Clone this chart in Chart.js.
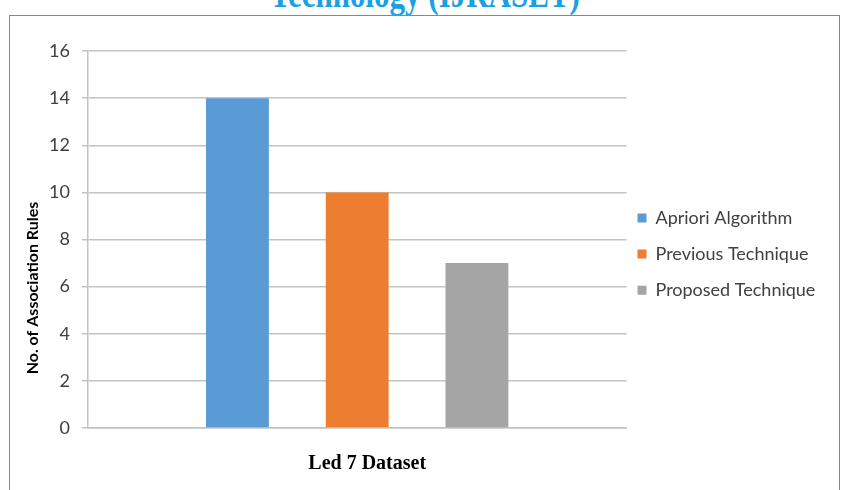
<!DOCTYPE html>
<html>
<head>
<meta charset="utf-8">
<script src="https://cdn.jsdelivr.net/npm/chart.js@4.4.1/dist/chart.umd.min.js"></script>
<style>
  html, body { margin: 0; padding: 0; background: #fff; }
  body { width: 856px; height: 490px; position: relative; overflow: hidden; }
  #page-title {
    position: absolute; left: 0; width: 850px; top: -19px;
    text-align: center; font: bold 31px "Liberation Serif", serif;
    line-height: 31px; color: #1ba1e2; white-space: nowrap;
    transform: scaleY(1.3); transform-origin: 50% 26px;
  }
  #frame {
    position: absolute; left: 9px; top: 15px; width: 829px; height: 490px;
    border: 1px solid #888;
  }
  .chart-container { position: absolute; left: 0; top: 0; width: 856px; height: 490px; }
</style>
</head>
<body>
<div id="page-title">Technology (IJRASET)</div>
<div id="frame"></div>
<div class="chart-container"><canvas id="chart"></canvas></div>
<script>
// values
const categories = ['Led 7 Dataset'];
const seriesNames = ['Apriori Algorithm', 'Previous Technique', 'Proposed Technique'];
const aprioriRules = [14];
const previousRules = [10];
const proposedRules = [7];
const seriesColors = ['#5b9bd5', '#ed7d31', '#a5a5a5'];
const yMin = 0, yMax = 16, yStep = 2;
const yTitle = 'No. of Association Rules';

const gridColor = '#c3c3c3';
const calibriLike = 'Lato, "Open Sans", sans-serif';

// y title sits lower than the axis centre in the original, so draw it by hand
const yTitlePlugin = {
    id: 'yTitle',
    afterDraw: (chart) => {
        const ctx = chart.ctx;
        ctx.save();
        ctx.translate(33, 288);
        ctx.rotate(-Math.PI / 2);
        ctx.font = 'bold 16px ' + calibriLike;
        ctx.fillStyle = '#000';
        ctx.textAlign = 'center';
        ctx.textBaseline = 'middle';
        ctx.fillText(yTitle, 0, 0);
        ctx.restore();
    }
};

const seriesData = [aprioriRules, previousRules, proposedRules];

let config = {
    type: 'bar',
    data: {
        labels: categories,
        datasets: seriesNames.map((name, i) => ({
            label: name,
            data: seriesData[i],
            backgroundColor: seriesColors[i],
            borderWidth: 0,
            categoryPercentage: 0.667,
            barPercentage: 0.525,
        }))
    },
    options: {
        responsive: true,
        maintainAspectRatio: false,
        animation: false,
        layout: {
            padding: { left: 37, right: 33, top: 51, bottom: -10 }
        },
        plugins: {
            tooltip: { enabled: false },
            legend: {
                position: 'right',
                fullSize: false,
                // empty title just pushes the entries down a bit
                title: { display: true, text: ' ', padding: 0, font: { size: 20, lineHeight: 1.82 } },
                labels: {
                    boxWidth: 9,
                    boxHeight: 9,
                    padding: 11,
                    color: '#404040',
                    font: { family: calibriLike, size: 18, lineHeight: 1.4 },
                    // array text makes the legend use the font line height for each row
                    generateLabels: (chart) => Chart.defaults.plugins.legend.labels.generateLabels(chart)
                        .map(item => ({ ...item, text: [item.text] })),
                }
            }
        },
        scales: {
            x: {
                grid: { display: false, drawTicks: false },
                border: { display: true, color: gridColor, width: 1.5 },
                ticks: {
                    color: '#000',
                    padding: 24,
                    labelOffset: 10,
                    font: { family: '"Liberation Serif", serif', size: 20, weight: 'bold' },
                }
            },
            y: {
                min: yMin,
                max: yMax,
                grid: { color: gridColor, lineWidth: 1.5, tickLength: 6, tickColor: gridColor },
                border: { display: true, color: gridColor, width: 1.5 },
                ticks: {
                    stepSize: yStep,
                    padding: 12,
                    color: '#404040',
                    font: { family: calibriLike, size: 18 },
                }
            }
        }
    },
    plugins: [yTitlePlugin]
};

new Chart(document.getElementById('chart').getContext('2d'), config);
</script>
</body>
</html>
